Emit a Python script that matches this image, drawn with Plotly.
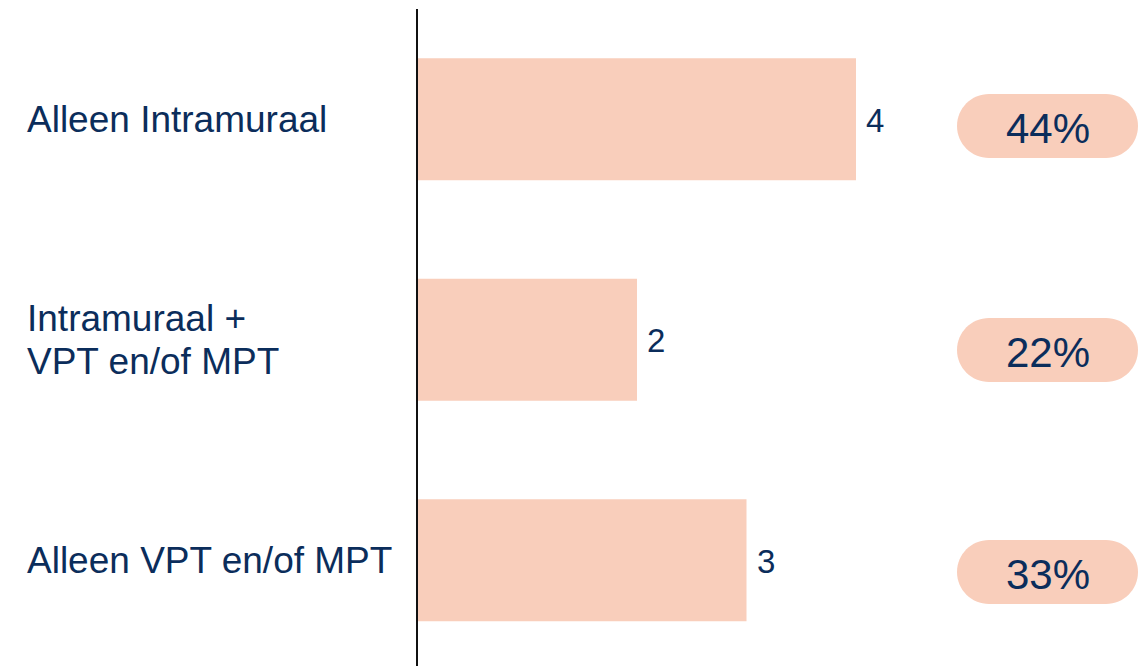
import plotly.graph_objects as go

categories = ["Alleen Intramuraal", "Intramuraal +\nVPT en/of MPT", "Alleen VPT en/of MPT"]
counts = [4, 2, 3]
percent_labels = ["44%", "22%", "33%"]

BAR_COLOR = "#F9CEBB"
TEXT_COLOR = "#0B2D5B"
FONT = "Arial, Liberation Sans, sans-serif"

OFF = 8  # page body margin
W, H = 1148 - OFF, 666 - OFF
L, R, T, B = 418 - OFF, 0, 9 - OFF, 0
plot_w = W - L - R
plot_h = H - T - B

fig = go.Figure()
fig.add_trace(go.Bar(
    x=counts,
    y=categories,
    orientation="h",
    marker=dict(color=BAR_COLOR, line=dict(width=0)),
    width=0.553,
    hoverinfo="skip",
))

annotations = []
shapes = []

# category labels, left aligned
label_x = (25 - OFF - L) / plot_w
line_gap = 43
for cat in categories:
    lines = cat.split("\n")
    n = len(lines)
    for i, ln in enumerate(lines):
        shift = ((n - 1) / 2 - i) * line_gap
        annotations.append(dict(
            x=label_x, xref="paper", y=cat, yref="y",
            text=ln, showarrow=False, xanchor="left", yanchor="middle",
            yshift=shift, font=dict(family=FONT, size=37, color=TEXT_COLOR),
        ))

# value labels next to bars
for cat, v in zip(categories, counts):
    annotations.append(dict(
        x=v, xref="x", y=cat, yref="y", text=str(v), showarrow=False,
        xanchor="left", yanchor="middle", xshift=8, yshift=-1,
        font=dict(family=FONT, size=33, color=TEXT_COLOR),
    ))

# pills with percentages
pill_cx = (1047.5 - OFF - L) / plot_w
pill_centers_px = [126, 350, 572]
hw, hh = 90.5, 32
r = hh
k = 0.5523 * r
xs = hw - r
path = (
    f"M {-xs},{-hh} L {xs},{-hh} "
    f"C {xs + k},{-hh} {hw},{-k} {hw},0 "
    f"C {hw},{k} {xs + k},{hh} {xs},{hh} "
    f"L {-xs},{hh} "
    f"C {-xs - k},{hh} {-hw},{k} {-hw},0 "
    f"C {-hw},{-k} {-xs - k},{-hh} {-xs},{-hh} Z"
)
for lab, cy in zip(percent_labels, pill_centers_px):
    py = 1 - (cy - OFF - T) / plot_h
    shapes.append(dict(
        type="path", xref="paper", yref="paper",
        xsizemode="pixel", ysizemode="pixel",
        xanchor=pill_cx, yanchor=py, path=path,
        fillcolor=BAR_COLOR, line=dict(width=0), layer="below",
    ))
    annotations.append(dict(
        x=pill_cx, xref="paper", y=py, yref="paper", text=lab,
        showarrow=False, xanchor="center", yanchor="middle", yshift=-2,
        font=dict(family=FONT, size=42, color=TEXT_COLOR),
    ))

px_per_unit = 109.5
fig.update_layout(
    width=W, height=H,
    margin=dict(l=L, r=R, t=T, b=B, pad=0),
    paper_bgcolor="white", plot_bgcolor="white",
    showlegend=False,
    xaxis=dict(range=[0, plot_w / px_per_unit], showgrid=False, zeroline=False,
               showticklabels=False, showline=False, ticks=""),
    yaxis=dict(type="category", range=[2.5 - (670.5 - 666) / 220.5, -0.5],
               showgrid=False, zeroline=False,
               showticklabels=False, ticks="", showline=True,
               linecolor="#111111", linewidth=2),
    annotations=annotations,
    shapes=shapes,
)

fig.write_html("out.html")
